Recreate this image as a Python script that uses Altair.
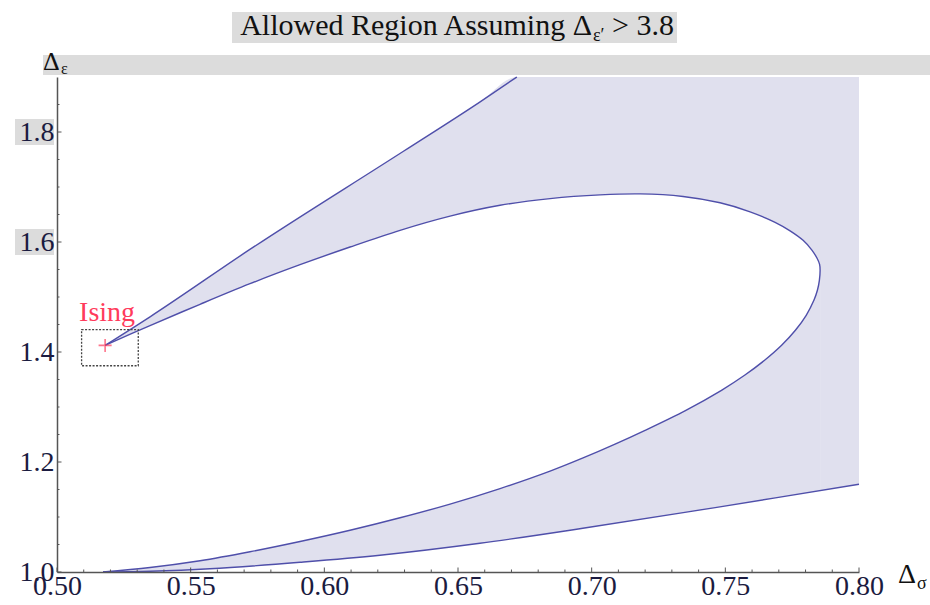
import altair as alt
import pandas as pd

# ---------------- data ----------------
# outer upper boundary (from the Ising point up to the top of the frame)
top_x = [0.518, 0.5348, 0.572, 0.6296, 0.658, 0.672]
top_y = [1.412, 1.464, 1.586, 1.765, 1.854, 1.900]

# inner boundary, upper branch (Ising point -> right tip)
inner_up_x = [0.51796, 0.53479, 0.55350, 0.57220, 0.59091, 0.60961, 0.62832,
              0.64703, 0.66573, 0.68444, 0.70314, 0.71811, 0.73419, 0.74804,
              0.75926, 0.76861, 0.77422, 0.77909, 0.78245, 0.78432, 0.78526,
              0.78545]
inner_up_y = [1.41218, 1.44800, 1.48673, 1.52418, 1.55873, 1.59091, 1.62127,
              1.64709, 1.66673, 1.67891, 1.68564, 1.68745, 1.68273, 1.67127,
              1.65491, 1.63582, 1.62036, 1.60309, 1.58491, 1.57036, 1.55945,
              1.54855]

# inner boundary, lower branch (right tip -> bottom)
inner_lo_x = [0.78545, 0.78518, 0.78444, 0.78313, 0.78025, 0.77621, 0.77105,
              0.76468, 0.75720, 0.74856, 0.73524, 0.71998, 0.70875, 0.69678,
              0.68444, 0.66573, 0.64703, 0.62832, 0.60961, 0.59091, 0.57220,
              0.55350, 0.53479, 0.51721]
inner_lo_y = [1.54855, 1.53036, 1.51218, 1.49400, 1.46673, 1.43945, 1.41218,
              1.38491, 1.35764, 1.33036, 1.29400, 1.25764, 1.23255, 1.20745,
              1.18345, 1.15164, 1.12345, 1.09855, 1.07582, 1.05536, 1.03673,
              1.02036, 1.00809, 1.0]

# outer lower boundary
low_x = [0.5172, 0.5348, 0.5572, 0.5909, 0.6208, 0.6582, 0.6967, 0.7468, 0.80]
low_y = [1.0, 1.0013, 1.0058, 1.0176, 1.0304, 1.0522, 1.0795, 1.1176, 1.1595]

# right edge of the allowed region
x_max = 0.80
y_top = 1.90
y_floor = 1.0

# Ising point and its box
ising_x = [0.518]
ising_y = [1.412]
box_x = [0.5092]
box_x2 = [0.5304]
box_y = [1.375]
box_y2 = [1.4407]

# ticks
x_major = [0.50, 0.55, 0.60, 0.65, 0.70, 0.75, 0.80]
x_minor = [0.51, 0.52, 0.53, 0.54, 0.56, 0.57, 0.58, 0.59, 0.61, 0.62, 0.63, 0.64,
           0.66, 0.67, 0.68, 0.69, 0.71, 0.72, 0.73, 0.74, 0.76, 0.77, 0.78, 0.79]
y_major = [1.0, 1.2, 1.4, 1.6, 1.8]
y_minor = [1.05, 1.1, 1.15, 1.25, 1.3, 1.35, 1.45, 1.5, 1.55, 1.65, 1.7, 1.75, 1.85]
label_bg_y = [1.8, 1.6]

# ---------------- styling ----------------
LAV = "#e0e0ee"
LINE = "#4f4faa"
GRAY_BG = "#dcdcdc"
RED = "#ff3b5c"
TXT = "#1b1b40"
FONT = "Liberation Serif"
W, H = 802, 495

xs = alt.Scale(domain=[0.5, 0.8], nice=False, zero=False)
ys = alt.Scale(domain=[1.0, 1.9], nice=False, zero=False)

x_axis = alt.Axis(values=x_major, format=".2f", labelFont=FONT, labelFontSize=28,
                  labelColor=TXT, ticks=False, grid=False, domainColor="#555",
                  domainWidth=1.5, labelPadding=0, title=None, zindex=1,
                  labelFlush=False, labelOverlap=False)
y_axis = alt.Axis(values=y_major, format=".1f", labelFont=FONT, labelFontSize=28,
                  labelColor=TXT, ticks=False, grid=False, domainColor="#555",
                  domainWidth=1.5, labelPadding=3, title=None, zindex=1,
                  labelFlush=False, labelOverlap=False)


def X(f="x"):
    return alt.X(f"{f}:Q", scale=xs, axis=x_axis)


def Y(f="y"):
    return alt.Y(f"{f}:Q", scale=ys, axis=y_axis)


# lavender region under the outer top boundary; its lower edge starts at the
# Ising point so that no seam is left on the white side
area1_y2 = [ising_y[0]] + [y_floor] * len(top_x)
df_top_area = pd.DataFrame({"x": top_x + [x_max], "y": top_y + [y_top],
                            "y2": area1_y2})
df_up = pd.DataFrame({"x": inner_up_x, "y": inner_up_y})
df_lo = pd.DataFrame({"x": inner_lo_x, "y": inner_lo_y})
df_low = pd.DataFrame({"x": low_x, "y": low_y})
df_top = pd.DataFrame({"x": top_x, "y": top_y})
loop_x = inner_up_x + inner_lo_x[1:]
loop_y = inner_up_y + inner_lo_y[1:]
df_loop = pd.DataFrame({"x": loop_x, "y": loop_y, "i": list(range(len(loop_x)))})

# filled regions (painted in layers)
a1 = alt.Chart(df_top_area).mark_area(color=LAV, interpolate="monotone").encode(
    x=X(), y=Y(), y2="y2:Q")
a2 = alt.Chart(df_up).mark_area(color="white", interpolate="catmull-rom").encode(
    x=X(), y=Y(), y2=alt.datum(y_floor))
a3 = alt.Chart(df_lo).mark_area(color=LAV, interpolate="catmull-rom").encode(
    x=X(), y=Y(), y2=alt.datum(y_floor))
a4 = alt.Chart(df_low).mark_area(color="white", interpolate="catmull-rom").encode(
    x=X(), y=Y(), y2=alt.datum(y_floor))

# boundary curves
l_top = alt.Chart(df_top).mark_line(color=LINE, strokeWidth=1.4,
                                    interpolate="monotone").encode(x=X(), y=Y())
l_loop = alt.Chart(df_loop).mark_line(color=LINE, strokeWidth=1.4,
                                      interpolate="catmull-rom").encode(
    x=X(), y=Y(), order="i:Q")
l_low = alt.Chart(df_low).mark_line(color=LINE, strokeWidth=1.4,
                                    interpolate="catmull-rom").encode(x=X(), y=Y())

# Ising box, marker and label
df_box = pd.DataFrame({"x": box_x, "x2": box_x2, "y": box_y, "y2": box_y2})
box = alt.Chart(df_box).mark_rect(fill=None, stroke="#444", strokeWidth=1.3,
                                  strokeDash=[2, 1.5]).encode(
    x=X(), x2="x2:Q", y=Y(), y2="y2:Q")
df_is = pd.DataFrame({"x": ising_x, "y": ising_y})
plus = alt.Chart(df_is).mark_point(shape="M -1 0 L 1 0 M 0 -1 L 0 1", filled=False,
                                   color=RED, strokeWidth=1.6, size=170).encode(
    x=X(), y=Y())
ising_lbl = alt.Chart(df_is).mark_text(text="Ising", font=FONT, fontSize=28,
                                       color=RED, dx=2, dy=-24,
                                       baseline="alphabetic").encode(x=X(), y=Y())

# inside ticks
df_xmaj = pd.DataFrame({"x": x_major})
df_xmin = pd.DataFrame({"x": x_minor})
df_ymaj = pd.DataFrame({"y": y_major})
df_ymin = pd.DataFrame({"y": y_minor})
t1 = alt.Chart(df_xmaj).mark_rule(color="#555", strokeWidth=1).encode(
    x=X(), y=alt.value(H), y2=alt.value(H - 4.5))
t2 = alt.Chart(df_xmin).mark_rule(color="#555", strokeWidth=1).encode(
    x=X(), y=alt.value(H), y2=alt.value(H - 2.5))
t3 = alt.Chart(df_ymaj).mark_rule(color="#555", strokeWidth=1).encode(
    y=Y(), x=alt.value(0), x2=alt.value(4.5))
t4 = alt.Chart(df_ymin).mark_rule(color="#555", strokeWidth=1).encode(
    y=Y(), x=alt.value(0), x2=alt.value(2.5))

# grey label backgrounds (as in the reference rendering)
df_lbg = pd.DataFrame({"y": label_bg_y})
lbg = alt.Chart(df_lbg).mark_rect(color=GRAY_BG, height=26).encode(
    y=Y(), x=alt.value(-42), x2=alt.value(-3))

one = pd.DataFrame({"k": [0]})
band = alt.Chart(one).mark_rect(color=GRAY_BG).encode(
    x=alt.value(-14), x2=alt.value(W + 80), y=alt.value(-22), y2=alt.value(-2))
title_bg = alt.Chart(one).mark_rect(color=GRAY_BG).encode(
    x=alt.value(175), x2=alt.value(620), y=alt.value(-65), y2=alt.value(-34))
title_a = alt.Chart(one).mark_text(text="Allowed Region Assuming Δ", font=FONT,
                                   fontSize=30, color="#111", align="right",
                                   baseline="alphabetic").encode(
    x=alt.value(535), y=alt.value(-42))
title_b = alt.Chart(one).mark_text(text="ε′", font=FONT, fontSize=18, color="#111",
                                   align="left", baseline="alphabetic").encode(
    x=alt.value(536), y=alt.value(-36))
title_c = alt.Chart(one).mark_text(text="> 3.8", font=FONT, fontSize=30, color="#111",
                                   align="left", baseline="alphabetic").encode(
    x=alt.value(555), y=alt.value(-42))

ylab_a = alt.Chart(one).mark_text(text="Δ", font=FONT, fontSize=26, color="#111",
                                  align="left", baseline="alphabetic").encode(
    x=alt.value(-14), y=alt.value(-7))
ylab_b = alt.Chart(one).mark_text(text="ε", font=FONT, fontSize=16, color="#111",
                                  align="left", baseline="alphabetic").encode(
    x=alt.value(4), y=alt.value(-3))
xlab_a = alt.Chart(one).mark_text(text="Δ", font=FONT, fontSize=28, color="#111",
                                  align="left", baseline="alphabetic").encode(
    x=alt.value(841), y=alt.value(506))
xlab_b = alt.Chart(one).mark_text(text="σ", font=FONT, fontSize=18, color="#111",
                                  align="left", baseline="alphabetic").encode(
    x=alt.value(860), y=alt.value(512))

chart = alt.layer(
    a1, a2, a3, a4, lbg, band, title_bg,
    l_top, l_loop, l_low, box, plus, ising_lbl,
    t1, t2, t3, t4,
    title_a, title_b, title_c, ylab_a, ylab_b, xlab_a, xlab_b,
).properties(
    width=W, height=H,
    autosize=alt.AutoSizeParams(type="none"),
    padding={"left": 57, "top": 77, "right": 71, "bottom": 33},
    background="white",
).configure_view(stroke=None)

chart.save("out.html", embed_options={"renderer": "svg", "actions": False})
